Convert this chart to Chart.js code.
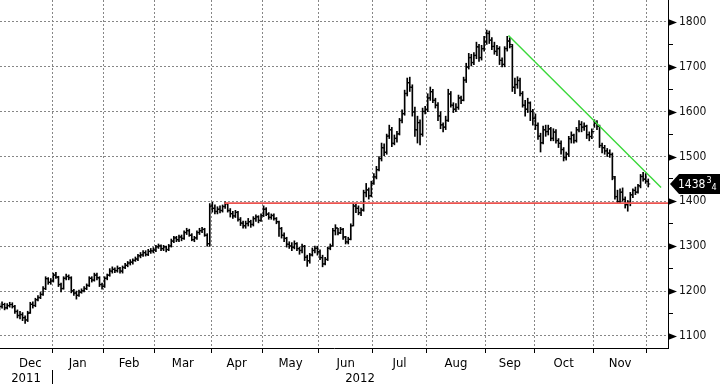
<!DOCTYPE html>
<html>
<head>
<meta charset="utf-8">
<script src="https://cdn.jsdelivr.net/npm/chart.js@4.4.1/dist/chart.umd.min.js"></script>
<style>
html,body{margin:0;padding:0;background:#fff;}
canvas{display:block;}
</style>
</head>
<body>
<canvas id="c" width="720" height="384"></canvas>
<script>
// ---------- data ----------
const monthLabels = ['Dec','Jan','Feb','Mar','Apr','May','Jun','Jul','Aug','Sep','Oct','Nov'];
const tradingDays = [21,20,20,22,20,22,21,21,23,19,23,21];
const yearLabels = ['2011','2012'];
const yMajorTicks = [1100,1200,1300,1400,1500,1600,1700,1800];
const yMinorTicks = [1150,1250,1350,1450,1550,1650,1750];

const O = [
 1160,1166,1170,1163,1167,1170,1165,1154,1146,1147,1141,1136,1152,1171,1168,1181,1186,1193,1206,1227,1219,
 1224,1236,1230,1214,1206,1229,1233,1229,1201,1196,1191,1197,1201,1206,1213,1229,1224,1236,1229,1214,
 1211,1229,1236,1244,1249,1245,1251,1244,1253,1257,1263,1264,1269,1271,1279,1281,1286,1281,1289,1289,
 1291,1299,1301,1294,1299,1293,1301,1311,1319,1314,1321,1317,1331,1334,1324,1314,1319,1331,1334,1337,1324,1306,
 1390,1384,1377,1383,1379,1389,1394,1379,1373,1367,1376,1359,1351,1346,1351,1354,1349,1361,1366,1357,
 1369,1383,1371,1364,1369,1361,1354,1339,1324,1317,1304,1301,1297,1306,1294,1291,1299,1276,1267,1281,1291,1296,
 1287,1274,1261,1271,1296,1301,1334,1341,1329,1337,1321,1309,1316,1346,1389,1384,1374,1381,1419,1426,1413,
 1441,1454,1471,1496,1519,1509,1546,1559,1529,1541,1551,1581,1596,1641,1664,1654,1599,1559,1576,1549,1601,
 1604,1631,1644,1626,1614,1591,1571,1566,1581,1639,1614,1606,1609,1631,1626,1671,1699,1721,1709,1726,1744,1721,1741,
 1756,1774,1759,1746,1734,1741,1714,1706,1741,1757,1745,1654,1661,1669,1641,1614,1606,1619,1601,
 1586,1569,1546,1531,1559,1556,1561,1541,1554,1536,1529,1516,1497,1506,1539,1547,1536,1559,1571,1566,1567,1549,1544,
 1556,1574,1567,1524,1519,1513,1507,1504,1452,1411,1399,1421,1404,1393,1397,1414,1424,1421,1434,1456,1449,1444
];
const H = [
 1172,1176,1173,1172,1175,1174,1168,1158,1155,1152,1145,1155,1175,1176,1184,1190,1197,1210,1232,1230,1228,
 1240,1242,1233,1218,1232,1238,1236,1232,1204,1200,1202,1205,1210,1216,1232,1232,1240,1240,1232,1218,
 1232,1238,1250,1254,1252,1256,1253,1256,1262,1266,1270,1272,1276,1282,1286,1290,1290,1293,1295,1297,
 1302,1305,1303,1302,1300,1304,1316,1322,1322,1325,1325,1334,1340,1338,1328,1322,1334,1340,1342,1340,1328,1395,
 1398,1392,1388,1390,1392,1399,1396,1384,1378,1380,1378,1364,1356,1356,1362,1358,1366,1370,1368,1372,
 1390,1386,1375,1372,1372,1364,1356,1342,1330,1320,1310,1308,1312,1308,1298,1305,1302,1280,1284,1296,1300,1300,
 1292,1280,1275,1298,1305,1340,1348,1340,1342,1340,1322,1320,1350,1395,1396,1390,1385,1425,1440,1430,1445,
 1462,1478,1500,1530,1528,1550,1570,1565,1548,1556,1585,1604,1648,1675,1677,1660,1610,1590,1582,1608,1612,
 1640,1655,1650,1630,1620,1600,1575,1590,1650,1645,1620,1618,1637,1635,1677,1708,1730,1728,1732,1755,1750,1748,1768,
 1782,1780,1765,1755,1748,1745,1720,1745,1768,1765,1750,1675,1678,1675,1645,1625,1630,1622,1605,
 1595,1575,1552,1568,1570,1570,1565,1562,1560,1540,1535,1520,1510,1545,1555,1550,1565,1580,1578,1575,1570,1555,1562,
 1582,1580,1570,1530,1525,1518,1515,1508,1456,1425,1428,1430,1410,1402,1420,1428,1432,1438,1460,1465,1462,1450
];
const L = [
 1158,1162,1158,1160,1164,1162,1150,1140,1138,1134,1128,1132,1150,1162,1165,1178,1183,1190,1203,1215,1215,
 1220,1228,1210,1198,1204,1225,1225,1196,1190,1182,1188,1195,1198,1203,1210,1220,1222,1225,1210,1204,
 1208,1225,1233,1240,1241,1242,1240,1240,1250,1254,1258,1260,1266,1268,1274,1277,1278,1279,1284,1285,
 1288,1295,1290,1290,1287,1290,1298,1308,1310,1310,1312,1315,1326,1322,1312,1310,1315,1326,1330,1322,1300,1300,
 1376,1372,1372,1374,1376,1384,1376,1365,1362,1364,1356,1346,1340,1340,1345,1342,1345,1355,1352,1355,
 1366,1368,1360,1360,1358,1350,1322,1318,1310,1298,1295,1290,1294,1290,1282,1285,1268,1255,1262,1278,1285,1280,
 1270,1254,1258,1268,1292,1300,1325,1325,1328,1315,1305,1305,1314,1345,1375,1370,1368,1378,1410,1405,1410,
 1438,1450,1468,1490,1502,1505,1540,1522,1526,1532,1548,1575,1592,1635,1645,1590,1545,1530,1526,1545,1595,
 1600,1625,1620,1608,1580,1562,1555,1560,1578,1610,1598,1600,1605,1618,1624,1665,1695,1702,1705,1718,1712,1715,1735,
 1750,1752,1738,1728,1725,1705,1700,1700,1735,1742,1645,1640,1652,1635,1610,1590,1598,1580,1570,
 1560,1538,1510,1528,1545,1548,1535,1535,1530,1520,1505,1490,1492,1500,1530,1530,1532,1555,1555,1558,1540,1535,1540,
 1565,1560,1520,1508,1505,1500,1498,1448,1405,1395,1396,1400,1385,1378,1390,1408,1415,1418,1430,1445,1440,1432
];
const C = [
 1165,1170,1162,1168,1170,1166,1155,1145,1148,1140,1135,1150,1170,1168,1180,1185,1192,1205,1228,1220,1222,
 1235,1232,1215,1205,1228,1232,1230,1200,1195,1190,1198,1200,1205,1212,1228,1225,1235,1230,1215,1210,
 1228,1235,1245,1248,1246,1250,1245,1252,1258,1262,1265,1268,1272,1278,1280,1285,1282,1288,1290,1292,
 1298,1300,1295,1298,1292,1300,1312,1318,1315,1320,1318,1330,1335,1325,1315,1318,1330,1335,1338,1325,1305,1388,
 1385,1378,1382,1380,1388,1395,1380,1372,1368,1375,1360,1352,1345,1350,1355,1348,1362,1365,1358,1368,
 1382,1372,1365,1368,1362,1355,1340,1325,1318,1305,1300,1298,1305,1295,1290,1300,1275,1268,1280,1290,1295,1288,
 1275,1260,1270,1295,1300,1335,1340,1330,1338,1320,1310,1315,1345,1390,1385,1375,1380,1420,1425,1412,1440,
 1455,1470,1495,1520,1510,1545,1560,1530,1540,1550,1580,1595,1640,1665,1655,1600,1560,1575,1550,1600,1605,
 1630,1645,1625,1615,1590,1570,1565,1580,1640,1615,1605,1610,1630,1625,1670,1700,1720,1710,1725,1745,1720,1740,1755,
 1775,1760,1745,1735,1740,1715,1705,1740,1758,1750,1655,1660,1670,1640,1615,1605,1620,1600,1585,
 1570,1545,1530,1560,1555,1562,1540,1555,1535,1530,1515,1498,1505,1540,1548,1535,1560,1572,1565,1568,1548,1545,1555,
 1575,1568,1525,1520,1512,1508,1505,1455,1410,1400,1420,1405,1392,1398,1415,1425,1420,1435,1455,1450,1445,1438.75
];

// trend lines: [bar index, price]
const supportLine = [[87.7,1396],[260.7,1396]];
const resistanceLine = [[198.5,1770],[258,1431]];

// ---------- layout helpers ----------
const XMIN = 0.2, XMAX = 260.7;
const YMIN = 1073, YMAX = 1849;
const FIRST_LABEL_START = 3.5; // first Dec label is centred on the visible part of the month
const FONT = "'DejaVu Sans Condensed','Liberation Sans Narrow','DejaVu Sans',sans-serif";
Chart.defaults.font.family = FONT;

const bounds = [];
{ let acc = 0; tradingDays.forEach(d => { acc += d; bounds.push(acc - 0.5); }); }
const starts = [FIRST_LABEL_START].concat(bounds.slice(0, -1));
const centers = monthLabels.map((m, i) => (starts[i] + bounds[i]) / 2);
const yearTicks = [(XMIN + bounds[0]) / 2, bounds[0], (bounds[0] + XMAX) / 2];
const yearTickLabels = [yearLabels[0], '', yearLabels[1]];
const yAll = yMajorTicks.concat(yMinorTicks).sort((a,b)=>a-b);

const idx = C.map((_, i) => i);
const zeroPad = s => { s.paddingLeft = 0; s.paddingRight = 0; s.paddingTop = 0; s.paddingBottom = 0; };

const decor = {
  id: 'decor',
  afterDraw(chart) {
    const ctx = chart.ctx, ys = chart.scales.y, xr = chart.chartArea.right;
    ctx.save();
    ctx.fillStyle = '#000';
    yMajorTicks.forEach(v => {
      const py = Math.round(ys.getPixelForValue(v)) + 0.5;
      ctx.beginPath();
      ctx.moveTo(xr, py - 3.5);
      ctx.lineTo(xr + 9, py);
      ctx.lineTo(xr, py + 3.5);
      ctx.closePath();
      ctx.fill();
    });
    // last price tag
    const last = C[C.length - 1];
    const py = Math.round(ys.getPixelForValue(last));
    const x0 = xr + 2, h = 10;
    ctx.beginPath();
    ctx.moveTo(x0, py);
    ctx.lineTo(x0 + 9, py - h);
    ctx.lineTo(720, py - h);
    ctx.lineTo(720, py + h);
    ctx.lineTo(x0 + 9, py + h);
    ctx.closePath();
    ctx.fill();
    const whole = Math.floor(last);
    const quarters = Math.round((last - whole) * 4);
    ctx.fillStyle = '#fff';
    ctx.textBaseline = 'middle';
    ctx.textAlign = 'left';
    ctx.font = '12px ' + FONT;
    ctx.fillText(String(whole), x0 + 8, py + 0.5);
    const w = ctx.measureText(String(whole)).width;
    if (quarters > 0) {
      ctx.font = '9px ' + FONT;
      ctx.fillText(String(quarters), x0 + 9 + w, py - 3);
      ctx.fillText('4', x0 + 14 + w, py + 4);
    }
    ctx.restore();
  }
};

new Chart(document.getElementById('c'), {
  type: 'bar',
  data: {
    datasets: [
      {
        type: 'line', order: 0,
        data: supportLine.map(p => ({x: p[0], y: p[1]})),
        borderColor: '#ec5450', borderWidth: 1.8, pointRadius: 0, tension: 0
      },
      {
        type: 'line', order: 0,
        data: resistanceLine.map(p => ({x: p[0], y: p[1]})),
        borderColor: '#3ad83a', borderWidth: 1.4, pointRadius: 0, tension: 0
      },
      {
        type: 'scatter', order: 1,
        data: idx.map(i => ({x: i - 0.4, y: O[i]})),
        pointStyle: 'line', pointRadius: 1, pointBorderWidth: 1,
        pointBorderColor: '#000', pointBackgroundColor: '#000'
      },
      {
        type: 'scatter', order: 1,
        data: idx.map(i => ({x: i + 0.4, y: C[i]})),
        pointStyle: 'line', pointRadius: 1, pointBorderWidth: 1,
        pointBorderColor: '#000', pointBackgroundColor: '#000'
      },
      {
        type: 'bar', order: 2,
        data: idx.map(i => ({x: i, y: [L[i], H[i]]})),
        backgroundColor: '#000', borderWidth: 0, barThickness: 1, grouped: false
      }
    ]
  },
  options: {
    responsive: false,
    animation: false,
    events: [],
    layout: { padding: 0, autoPadding: false },
    plugins: { legend: { display: false }, tooltip: { enabled: false } },
    scales: {
      x: {
        type: 'linear', position: 'bottom', weight: 0,
        min: XMIN, max: XMAX, offset: false,
        afterBuildTicks: s => { s.ticks = bounds.map(v => ({value: v})); },
        ticks: { display: false, autoSkip: false },
        grid: { display: true, offset: false, color: '#868686', lineWidth: 1,
                drawTicks: true, tickLength: 5, tickColor: '#000', tickWidth: 1 },
        border: { display: true, color: '#000', width: 1, dash: [2, 2] },
        afterFit: s => { s.height = 6; zeroPad(s); }
      },
      xm: {
        type: 'linear', position: 'bottom', weight: 1,
        min: XMIN, max: XMAX, offset: false,
        afterBuildTicks: s => { s.ticks = centers.map(v => ({value: v})); },
        ticks: { autoSkip: false, maxRotation: 0, minRotation: 0, padding: 2,
                 color: '#000', font: { size: 13 },
                 callback: (v, i) => monthLabels[i] },
        grid: { display: false, drawTicks: false, offset: false },
        border: { display: false },
        afterFit: s => { s.height = 16; zeroPad(s); }
      },
      xy: {
        type: 'linear', position: 'bottom', weight: 2,
        min: XMIN, max: XMAX, offset: false,
        afterBuildTicks: s => { s.ticks = yearTicks.map(v => ({value: v})); },
        ticks: { autoSkip: false, maxRotation: 0, minRotation: 0, padding: -13.5,
                 color: '#000', font: { size: 13 },
                 callback: (v, i) => yearTickLabels[i] },
        grid: { display: true, drawOnChartArea: false, drawTicks: true, tickLength: 14,
                offset: false, color: 'transparent',
                tickColor: c => (c.index === 1 ? '#000' : 'rgba(0,0,0,0)'), tickWidth: 1 },
        border: { display: false },
        afterFit: s => { s.height = 14; zeroPad(s); }
      },
      y: {
        type: 'linear', position: 'right',
        min: YMIN, max: YMAX,
        afterBuildTicks: s => { s.ticks = yAll.map(v => ({value: v})); },
        ticks: { autoSkip: false, padding: 6, color: '#111', font: { size: 12 },
                 callback: v => (yMajorTicks.includes(v) ? String(v) : '') },
        grid: { display: true, drawOnChartArea: true,
                color: c => (c.tick && yMajorTicks.includes(c.tick.value) ? '#868686' : 'rgba(0,0,0,0)'),
                drawTicks: true, tickLength: 5, tickColor: '#000', tickWidth: 1 },
        border: { display: true, color: '#000', width: 1, dash: [2, 2] },
        afterFit: s => { s.width = 52; zeroPad(s); }
      }
    }
  },
  plugins: [decor]
});
</script>
</body>
</html>
